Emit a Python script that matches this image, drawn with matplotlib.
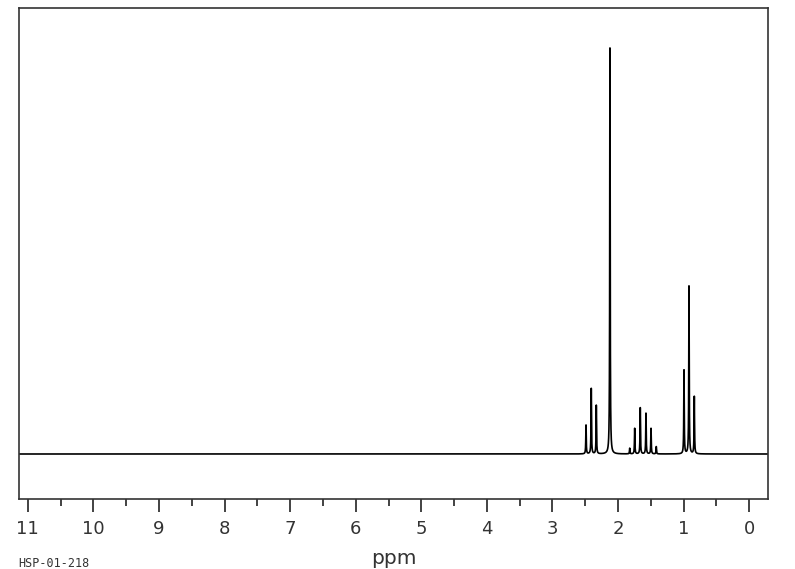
import numpy as np
import matplotlib
matplotlib.use("Agg")
import matplotlib.pyplot as plt

# -----------------------------
# Peak list (ppm, relative height)
# -----------------------------
peak_ppm = [2.489, 2.409, 2.332, 2.124,
            1.823, 1.747, 1.662, 1.575, 1.498, 1.418,
            0.995, 0.919, 0.838]
peak_height = [7.1, 16.1, 12.0, 100.0,
               1.4, 6.3, 11.4, 10.0, 6.3, 1.8,
               20.6, 41.3, 14.1]
line_width_ppm = 0.004

tick_values = list(range(0, 12))
tick_labels = [str(v) for v in tick_values]
sample_id = "HSP-01-218"

# -----------------------------
# Build the spectrum trace from the peak list
# -----------------------------
x_left, x_right = 11.133, -0.29
ppm = np.linspace(x_left, x_right, 20000)
signal = np.zeros_like(ppm)
for p0, h in zip(peak_ppm, peak_height):
    signal += h / (1.0 + ((ppm - p0) / line_width_ppm) ** 2)

# -----------------------------
# Plot
# -----------------------------
fig = plt.figure(figsize=(7.95, 5.69), dpi=100)
ax = fig.add_axes([19 / 795, 1 - 499 / 569, (768.3 - 19) / 795, (499 - 8) / 569])

ax.plot(ppm, signal, color="black", linewidth=1.2)

ax.set_xlim(x_left, x_right)
ax.set_ylim(-(499 - 454) / 4.07, (454 - 8) / 4.07)

for side in ["left", "right", "top", "bottom"]:
    ax.spines[side].set_color("#333333")
    ax.spines[side].set_linewidth(1.2)

ax.set_yticks([])
ax.set_xticks(tick_values)
ax.set_xticklabels(tick_labels)
ax.set_xticks(np.arange(0.5, 11, 1.0), minor=True)
ax.tick_params(axis="x", which="major", direction="out", length=9, width=1.2,
               color="#222222", labelsize=13, labelcolor="#333333", pad=6)
ax.tick_params(axis="x", which="minor", direction="out", length=5, width=1.2,
               color="#222222")

ax.set_xlabel("ppm", fontsize=14.5, color="#333333")
ax.xaxis.label.set_va("bottom")
ax.xaxis.set_label_coords(0.5, -(568 - 499) / 491)

fig.text(18 / 795, 1 - 567 / 569, sample_id, fontsize=8.5,
         family="DejaVu Sans Mono", color="#333333", va="baseline", ha="left")

plt.savefig("out.png", dpi=100)
plt.close()
